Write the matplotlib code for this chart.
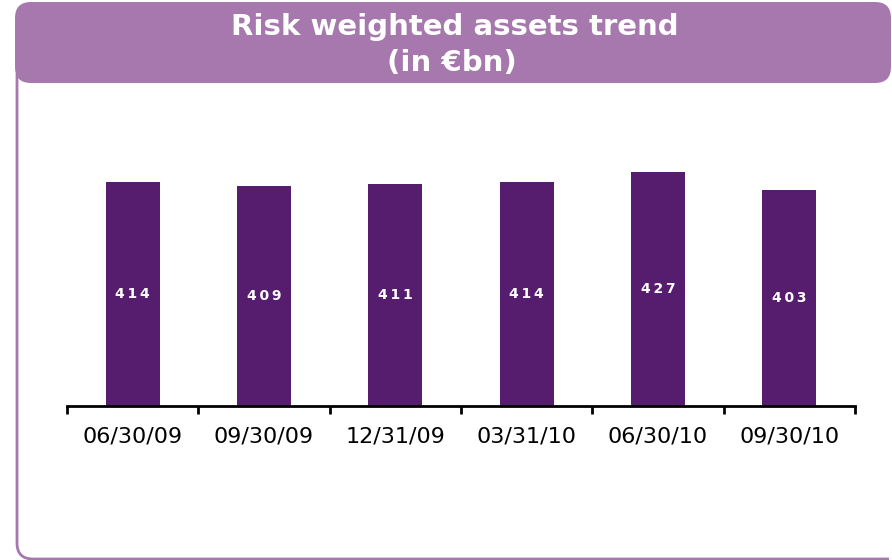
import matplotlib.pyplot as plt
from matplotlib.patches import FancyBboxPatch, Rectangle

# Data
dates = ['06/30/09', '09/30/09', '12/31/09', '03/31/10', '06/30/10', '09/30/10']
rwa = [414, 409, 411, 414, 427, 403]

title_color = '#A678AD'
bar_color = '#561C6E'

fig = plt.figure(figsize=(8.92, 5.60), dpi=100)

# Background layer in pixel coordinates for the frame and title box
bg = fig.add_axes([0, 0, 1, 1], zorder=0)
bg.set_xlim(0, 892)
bg.set_ylim(560, 0)
bg.axis('off')

frame = FancyBboxPatch((17, 60), 960, 499, boxstyle='round,pad=0,rounding_size=16',
                       facecolor='white', edgecolor=title_color, linewidth=2)
bg.add_patch(frame)
# hide the frame's right-hand part, which sits outside the picture in the original
frame.set_clip_path(Rectangle((0, 0), 889, 560, transform=bg.transData))
title_box = FancyBboxPatch((15, 2), 876, 81, boxstyle='round,pad=0,rounding_size=16',
                           facecolor=title_color, edgecolor='none')
bg.add_patch(title_box)
bg.text(455, 27, 'Risk weighted assets trend', color='white', fontsize=21,
        fontweight='bold', ha='center', va='center')
bg.text(452, 63, '(in €bn)', color='white', fontsize=21,
        fontweight='bold', ha='center', va='center')

# Bar chart axes: x from 67 to 855 px, baseline at 406 px from top
ymin = 115
ax = fig.add_axes([67 / 892, (560 - 406) / 560, (855 - 67) / 892, 286 / 560], zorder=1)
ax.patch.set_alpha(0)
x = list(range(len(dates)))
bars = ax.bar(x, rwa, width=0.41, color=bar_color)
ax.set_xlim(-0.5, len(dates) - 0.5)
ax.set_ylim(ymin, ymin + 286 / 0.75)

for xi, v in zip(x, rwa):
    ax.text(xi, (ymin + v) / 2, '\u2009'.join(str(v)), color='white', fontsize=10,
            fontweight='bold', ha='center', va='center')

for side in ['top', 'right', 'left']:
    ax.spines[side].set_visible(False)
ax.spines['bottom'].set_linewidth(2)
ax.set_yticks([])

# boundary tick marks, labels centred under the bars
ax.set_xticks([i - 0.5 for i in range(len(dates) + 1)])
ax.set_xticklabels([])
ax.tick_params(axis='x', which='major', direction='out', length=6, width=2)
ax.set_xticks(x, minor=True)
ax.set_xticklabels(dates, minor=True, fontsize=16)
ax.tick_params(axis='x', which='minor', length=0, pad=15)

fig.savefig('out.png', dpi=100)
